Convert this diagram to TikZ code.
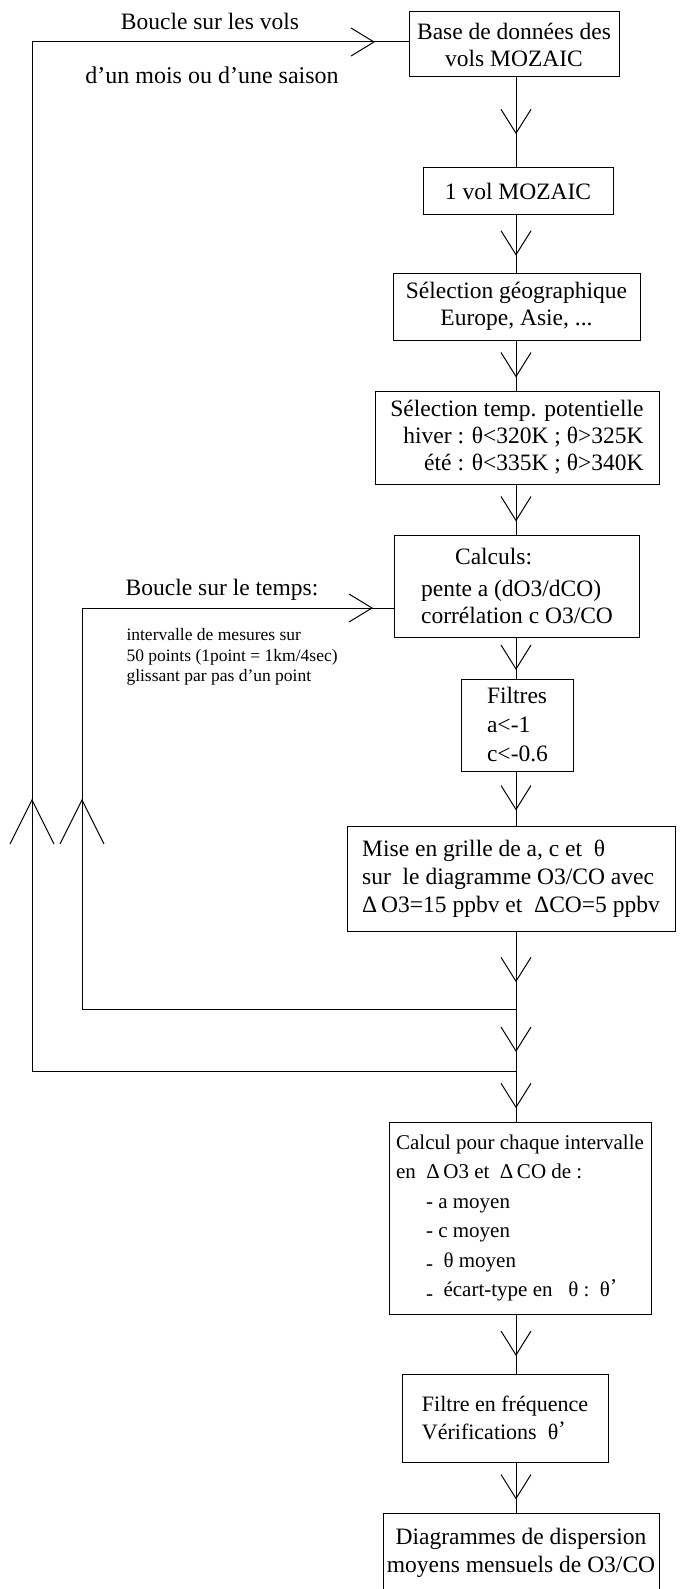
\documentclass[tikz,border=0pt]{standalone}
\usepackage{fontspec}
\setmainfont{Liberation Serif}
\usetikzlibrary{decorations.markings}
\newcommand\mainsz{\fontsize{23.5}{27}\selectfont}
\newcommand\smallsz{\fontsize{17.5}{20.5}\selectfont}
\newcommand\lowdash{\raisebox{-0.35ex}{-}}
\newcommand\thp{θ\raisebox{0.35ex}{’}}
\begin{document}
\begin{tikzpicture}[x=1pt,y=-1pt,line width=1pt,
  box/.style={draw,line width=1pt,inner sep=0pt,font=\mainsz},
  lbl/.style={inner sep=0pt,font=\mainsz},
  vmid/.style={postaction={decorate},decoration={markings,mark=at position 0.5 with {\draw[line width=1pt] (-13,-15) -- (11,0) -- (-13,15);}}},
  vat/.style={postaction={decorate},decoration={markings,mark=at position #1 with {\draw[line width=1pt] (-23,-14) -- (0,0) -- (-23,14);}}},
  bigv/.style={postaction={decorate},decoration={markings,mark=at position #1 with {\draw[line width=1pt] (-44,-22) -- (0,0) -- (-44,22);}}}
]
\useasboundingbox (0,0) rectangle (680,1589);
\clip (0,0) rectangle (680,1589);

% boxes
\node[box,minimum width=210pt,minimum height=65pt,align=center] (base) at (514,44.5) {Base de données des\\vols MOZAIC};
\node[box,minimum width=190pt,minimum height=47pt,align=center] (vol) at (518,191) {1 vol MOZAIC};
\node[box,minimum width=247pt,minimum height=67pt,align=center] (geo) at (516.5,306.5) {Sélection géographique\\Europe, Asie, ...};
\node[box,minimum width=284pt,minimum height=93pt,align=right] (temp) at (517,437.5) {Sélection temp. potentielle\\hiver : θ<320K ; θ>325K\\été : θ<335K ; θ>340K};
\node[box,minimum width=245pt,minimum height=102pt,align=left] (calc) at (517,586) {\hspace*{34pt}Calculs:\\[5pt]pente a (dO3/dCO)\\corrélation c O3/CO};
\node[box,minimum width=112pt,minimum height=92pt,align=left,font=\fontsize{23.5}{29}\selectfont] (filt) at (517.5,725) {Filtres\\a<-1\\c<-0.6};
\node[box,minimum width=328pt,minimum height=105pt,align=left,font=\fontsize{23.5}{28}\selectfont] (grid) at (511,878.5) {Mise en grille de a, c et\ \ θ\\sur\ \ le diagramme O3/CO avec\\Δ\,O3=15 ppbv et\ \ ΔCO=5 ppbv};
\node[box,minimum width=262pt,minimum height=192pt,align=left,font=\fontsize{21}{29.5}\selectfont] (calc2) at (520,1218) {Calcul pour chaque intervalle\\en\ \ Δ\,O3 et\ \ Δ\,CO de :\\\hspace*{30pt}- a moyen\\\hspace*{30pt}- c moyen\\\hspace*{30pt}\lowdash\ \ θ moyen\\\hspace*{30pt}\lowdash\ \ écart-type en\ \ \ θ :\ \ \thp};
\node[box,minimum width=206pt,minimum height=88pt,align=left,font=\fontsize{22}{28}\selectfont] (freq) at (505,1418) {Filtre en fréquence\\Vérifications\ \ \thp};
\node[box,minimum width=276pt,minimum height=80pt,align=center,font=\fontsize{23.5}{28}\selectfont] (diag) at (521,1553) {Diagrammes de dispersion\\moyens mensuels de O3/CO};

% labels
\node[lbl] (t1) at (210,21) {Boucle sur les vols};
\node[lbl,font=\fontsize{24}{28}\selectfont] (t2) at (212,75) {d’un mois ou d’une saison};
\node[lbl] (t3) at (222,590) {Boucle sur le temps:};
\node[inner sep=0pt,font=\smallsz,align=left,anchor=north west] (t4) at (126,628) {intervalle de mesures sur\\50 points (1point = 1km/4sec)\\glissant par pas d’un point};

% junctions
\coordinate (j1) at (516,1009);
\coordinate (j2) at (516,1071);
\coordinate (o1) at (32,1071);
\coordinate (o2) at (32,42);
\coordinate (i1) at (82,1009);
\coordinate (i2) at (82,608);

% main flow
\draw[vmid] (base.south -| j1) -- (vol.north -| j1);
\draw[vmid] (vol.south -| j1) -- (geo.north -| j1);
\draw[vmid] (geo.south -| j1) -- (temp.north -| j1);
\draw[vmid] (temp.south -| j1) -- (calc.north -| j1);
\draw[vmid] (calc.south -| j1) -- (filt.north -| j1);
\draw[vmid] (filt.south -| j1) -- (grid.north -| j1);
\draw[vmid] (grid.south -| j1) -- (j1);
\draw[vmid] (j1) -- (j2);
\draw[vmid] (j2) -- (calc2.north -| j2);
\draw[vmid] (calc2.south -| j1) -- (freq.north -| j1);
\draw[vmid] (freq.south -| j1) -- (diag.north -| j1);

% loops
\draw (j2) -- (o1);
\draw[bigv=271pt] (o1) -- (o2);
\draw[vat=342pt] (o2) -- (base.west |- o2);
\draw (j1) -- (i1);
\draw[bigv=209pt] (i1) -- (i2);
\draw[vat=290pt] (i2) -- (calc.west |- i2);
\end{tikzpicture}
\end{document}
